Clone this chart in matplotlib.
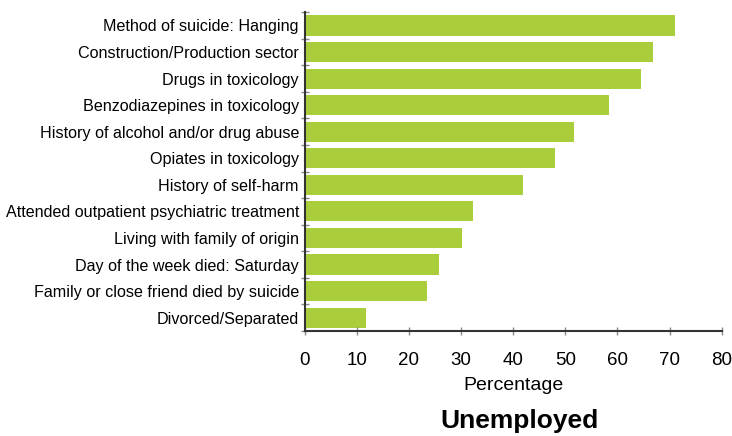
import matplotlib
matplotlib.use('Agg')
import matplotlib.pyplot as plt
import numpy as np

plt.rcParams['font.family'] = ['Liberation Sans', 'DejaVu Sans']

categories = [
    'Method of suicide: Hanging',
    'Construction/Production sector',
    'Drugs in toxicology',
    'Benzodiazepines in toxicology',
    'History of alcohol and/or drug abuse',
    'Opiates in toxicology',
    'History of self-harm',
    'Attended outpatient psychiatric treatment',
    'Living with family of origin',
    'Day of the week died: Saturday',
    'Family or close friend died by suicide',
    'Divorced/Separated',
]
percentages = [71.0, 66.8, 64.5, 58.3, 51.6, 48.0, 41.9, 32.3, 30.2, 25.8, 23.5, 11.8]
x_ticks = [0, 10, 20, 30, 40, 50, 60, 70, 80]

fig = plt.figure(figsize=(7.32, 4.36), dpi=100)
ax = fig.add_axes([0.416, 0.241, 0.570, 0.731])

y = np.arange(len(categories))[::-1]
ax.barh(y, percentages, height=0.76, color='#a9cd3b')

ax.set_xlim(0, 80)
ax.set_ylim(-0.5, len(categories) - 0.5)
ax.set_xticks(x_ticks)
ax.set_xticklabels([str(t) for t in x_ticks], fontsize=13.5)
ax.set_yticks(y)
ax.set_yticklabels(categories, fontsize=11.6)
ax.set_yticks(np.arange(len(categories) + 1) - 0.5, minor=True)

ax.tick_params(axis='y', which='major', length=0, pad=4)
ax.tick_params(axis='y', which='minor', direction='inout', length=6, color='#888888', width=1)
ax.tick_params(axis='x', which='major', direction='inout', length=6, color='#888888', width=1, pad=12)

for s in ['top', 'right']:
    ax.spines[s].set_visible(False)
for s in ['left', 'bottom']:
    ax.spines[s].set_color('#333333')
    ax.spines[s].set_linewidth(1.5)

ax.set_xlabel('Percentage', fontsize=14, labelpad=6)
fig.text(0.71, 0.035, 'Unemployed', fontsize=19, fontweight='bold', ha='center', va='center')

fig.savefig('out.png', dpi=100)
